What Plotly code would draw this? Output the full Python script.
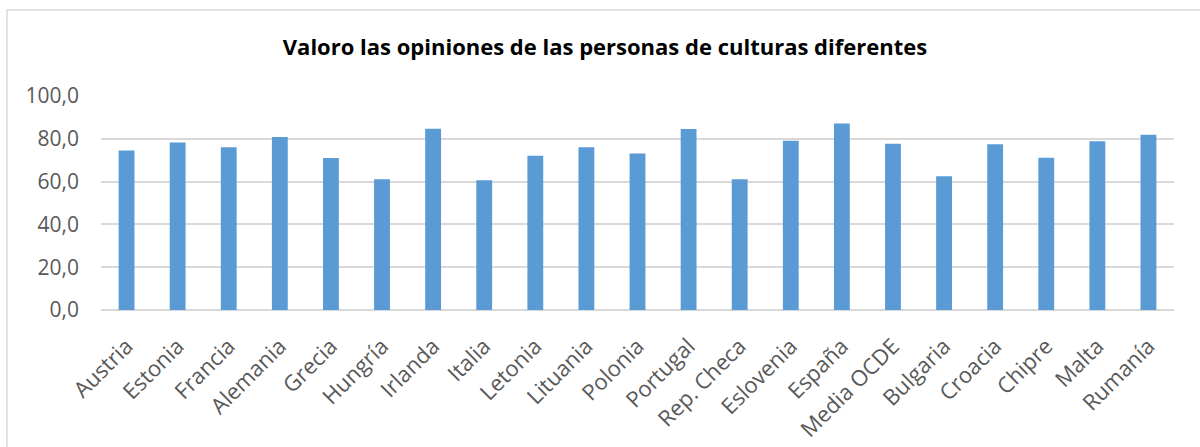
import plotly.graph_objects as go

# Country / group names and their survey scores
paises = ["Austria", "Estonia", "Francia", "Alemania", "Grecia", "Hungría",
          "Irlanda", "Italia", "Letonia", "Lituania", "Polonia", "Portugal",
          "Rep. Checa", "Eslovenia", "España", "Media OCDE", "Bulgaria",
          "Croacia", "Chipre", "Malta", "Rumanía"]
valores = [74.5, 78.3, 76.0, 80.8, 71.0, 61.1, 84.7, 60.6, 72.1, 76.0, 73.1,
           84.6, 61.1, 79.1, 87.1, 77.7, 62.5, 77.4, 71.2, 78.8, 81.9]
ticks_y = [0, 20, 40, 60, 80, 100]

W, H = 1200, 447
ML, MR, MT, MB = 101, 26, 96, 137
pw, ph = W - ML - MR, H - MT - MB

fig = go.Figure(go.Bar(
    x=paises, y=valores,
    marker=dict(color="#5B9BD5", line=dict(width=0)),
))

grid = "#D9D9D9"
fig.update_layout(
    width=W, height=H,
    margin=dict(l=ML, r=MR, t=MT, b=MB),
    paper_bgcolor="white", plot_bgcolor="white",
    separators=",.",
    bargap=0.69,
    showlegend=False,
    font=dict(family="Open Sans", color="#595959", size=20),
    title=dict(
        text="<b>Valoro las opiniones de las personas de culturas diferentes</b>",
        x=605 / W, xanchor="center", xref="container",
        y=1 - 47 / H, yanchor="middle",
        font=dict(family="Open Sans", size=22, color="#000000"),
    ),
    xaxis=dict(
        tickangle=-45, showgrid=False, showline=False, ticks="",
        ticklabelstandoff=18, automargin=False,
        tickfont=dict(size=22, color="#595959"),
    ),
    yaxis=dict(
        range=[0, 100], tickvals=ticks_y, tickformat=".1f",
        showgrid=True, gridcolor=grid, gridwidth=1.5,
        zeroline=True, zerolinecolor=grid, zerolinewidth=1.5,
        showline=False, ticks="", ticklabelstandoff=21, automargin=False,
        tickfont=dict(size=21, color="#595959"),
    ),
    shapes=[dict(
        type="rect", xref="paper", yref="paper", layer="below",
        x0=(7 - ML) / pw, x1=(W + 20 - ML) / pw,
        y0=(H - MB - (H + 20)) / ph, y1=(H - MB - 10) / ph,
        line=dict(color=grid, width=1.5), fillcolor="rgba(0,0,0,0)",
    )],
)

fig.write_html("out.html")
